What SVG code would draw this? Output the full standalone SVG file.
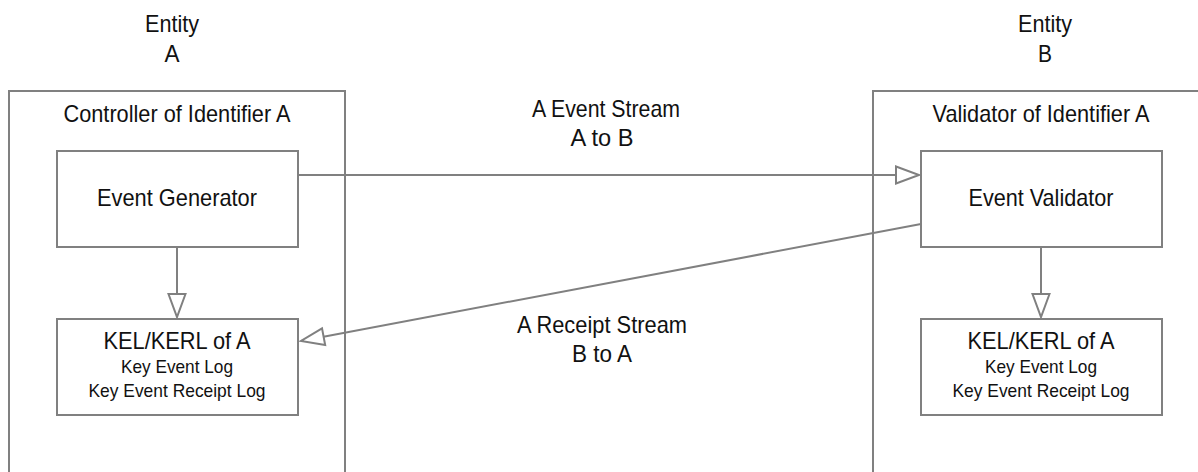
<svg xmlns="http://www.w3.org/2000/svg" width="1198" height="472" viewBox="0 0 1198 472">
<style>
.box{fill:#fff;stroke:#808080;stroke-width:2}
.frame{fill:none;stroke:#808080;stroke-width:2}
.t{font-family:"Liberation Sans",Arial,sans-serif;font-size:24px;fill:#111;text-anchor:middle}
.s{font-family:"Liberation Sans",Arial,sans-serif;font-size:18.5px;fill:#111;text-anchor:middle}
.c{fill:none;stroke:#808080;stroke-width:2}
</style>
<defs>
<marker id="open" markerUnits="userSpaceOnUse" markerWidth="28" markerHeight="21" refX="24" refY="9.5" orient="auto" overflow="visible">
<path d="M1,1 L24,9.5 L1,18 Z" fill="#fff" stroke="#808080" stroke-width="2"/>
</marker>
</defs>
<rect width="1198" height="472" fill="#fff"/>
<g id="entityA">
<text class="t" x="172" y="32" textLength="54" lengthAdjust="spacingAndGlyphs">Entity</text>
<text class="t" x="172" y="62" textLength="15" lengthAdjust="spacingAndGlyphs">A</text>
</g>
<g id="entityB">
<text class="t" x="1045" y="32" textLength="54" lengthAdjust="spacingAndGlyphs">Entity</text>
<text class="t" x="1045" y="62" textLength="14" lengthAdjust="spacingAndGlyphs">B</text>
</g>
<g id="controller">
<rect class="frame" x="9" y="91" width="336" height="420"/>
<text class="t" x="177" y="122" textLength="227" lengthAdjust="spacingAndGlyphs">Controller of Identifier A</text>
</g>
<g id="validator">
<rect class="frame" x="873" y="91" width="400" height="420"/>
<text class="t" x="1041" y="122" textLength="217" lengthAdjust="spacingAndGlyphs">Validator of Identifier A</text>
</g>
<g id="eventGenerator">
<rect class="box" x="57" y="151" width="241" height="96"/>
<text class="t" x="177" y="206" textLength="160" lengthAdjust="spacingAndGlyphs">Event Generator</text>
</g>
<g id="kelA">
<rect class="box" x="57" y="319" width="241" height="96"/>
<text class="t" x="177" y="349" textLength="147" lengthAdjust="spacingAndGlyphs">KEL/KERL of A</text>
<text class="s" x="177" y="373" textLength="112" lengthAdjust="spacingAndGlyphs">Key Event Log</text>
<text class="s" x="177" y="397" textLength="177" lengthAdjust="spacingAndGlyphs">Key Event Receipt Log</text>
</g>
<g id="eventValidator">
<rect class="box" x="921" y="151" width="241" height="96"/>
<text class="t" x="1041" y="206" textLength="145" lengthAdjust="spacingAndGlyphs">Event Validator</text>
</g>
<g id="kelB">
<rect class="box" x="921" y="319" width="241" height="96"/>
<text class="t" x="1041" y="349" textLength="147" lengthAdjust="spacingAndGlyphs">KEL/KERL of A</text>
<text class="s" x="1041" y="373" textLength="112" lengthAdjust="spacingAndGlyphs">Key Event Log</text>
<text class="s" x="1041" y="397" textLength="177" lengthAdjust="spacingAndGlyphs">Key Event Receipt Log</text>
</g>
<g id="connectors">
<line class="c" x1="298" y1="175" x2="919" y2="175" marker-end="url(#open)"/>
<line class="c" x1="921" y1="224" x2="301" y2="341" marker-end="url(#open)"/>
<line class="c" x1="177" y1="247" x2="177" y2="317" marker-end="url(#open)"/>
<line class="c" x1="1041" y1="247" x2="1041" y2="317" marker-end="url(#open)"/>
<text class="t" x="606" y="117" textLength="148" lengthAdjust="spacingAndGlyphs">A Event Stream</text>
<text class="t" x="602" y="146" textLength="63" lengthAdjust="spacingAndGlyphs">A to B</text>
<text class="t" x="602" y="333" textLength="170" lengthAdjust="spacingAndGlyphs">A Receipt Stream</text>
<text class="t" x="602" y="362" textLength="60" lengthAdjust="spacingAndGlyphs">B to A</text>
</g>
</svg>
